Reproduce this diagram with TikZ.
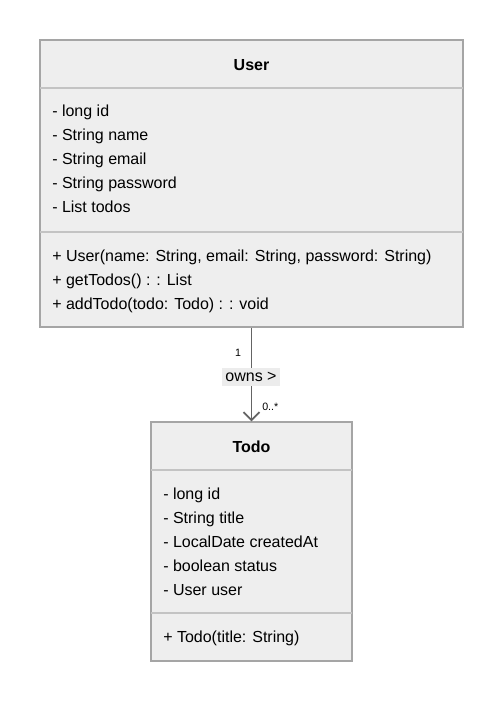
\documentclass[tikz,border=0pt]{standalone}
\usepackage{fontspec}
\setmainfont{Liberation Sans}
\usetikzlibrary{arrows.meta, positioning, calc, fit}
\definecolor{boxfill}{RGB}{238, 238, 238}
\definecolor{boxline}{RGB}{165, 165, 165}
\definecolor{divline}{RGB}{195, 195, 195}
\definecolor{linkgray}{RGB}{100, 100, 100}
\definecolor{labelfill}{RGB}{236, 236, 236}

\tikzset{
  classbox/.style={draw=boxline, fill=boxfill, line width=0.8pt, inner sep=0pt},
  classtitle/.style={anchor=base, font=\fontsize{12}{14}\selectfont\bfseries, inner sep=0pt},
  member/.style={anchor=base west, font=\fontsize{12}{14}\selectfont, inner sep=0pt},
  divider/.style={draw=divline, line width=0.8pt},
  multlabel/.style={font=\fontsize{8}{10}\selectfont, inner sep=0pt}
}

\begin{document}
\begin{tikzpicture}[x=0.75pt, y=-0.75pt]
  \useasboundingbox (0, 0) rectangle (503, 702);

  % The User class
  \node[classbox, fit={(40, 40) (463, 327)}] (user) {};
  \node[classtitle] (usertitle) at (251.5, 70.5) {User};
  \draw[divider] (40, 88) -- (463, 88);
  \foreach \txt [count=\i] in {- long id, - String name, - String email, - String password, - List todos}
    \node[member] (userattr\i) at (52, 93 + 24*\i) {\txt};
  \draw[divider] (40, 232) -- (463, 232);
  \foreach \txt [count=\i] in {{+ User(name: String, email: String, password: String)}, {+ getTodos() : : List}, {+ addTodo(todo: Todo) : : void}}
    \node[member] (usermeth\i) at (52, 237 + 24*\i) {\txt};

  % The Todo class
  \node[classbox, fit={(151, 422) (352, 661)}] (todo) {};
  \node[classtitle] (todotitle) at (251.5, 452.5) {Todo};
  \draw[divider] (151, 470) -- (352, 470);
  \foreach \txt [count=\i] in {- long id, - String title, - LocalDate createdAt, - boolean status, - User user}
    \node[member] (todoattr\i) at (163, 475 + 24*\i) {\txt};
  \draw[divider] (151, 613) -- (352, 613);
  \node[member] (todometh1) at (163, 642) {+ Todo(title: String)};

  % Association
  \draw[draw=linkgray, line width=0.8pt, -{Straight Barb[length=6pt, width=12pt, line width=1.4pt]}] (user.south) -- (todo.north);
  \node[member, fill=labelfill, inner xsep=2.5pt, inner ysep=3pt, anchor=center] (ownslabel) at (251, 377) {owns >};
  \node[multlabel] (srcmult) at (238, 352.5) {1};
  \node[multlabel, anchor=west] (dstmult) at (262, 406.5) {0..*};
\end{tikzpicture}
\end{document}
